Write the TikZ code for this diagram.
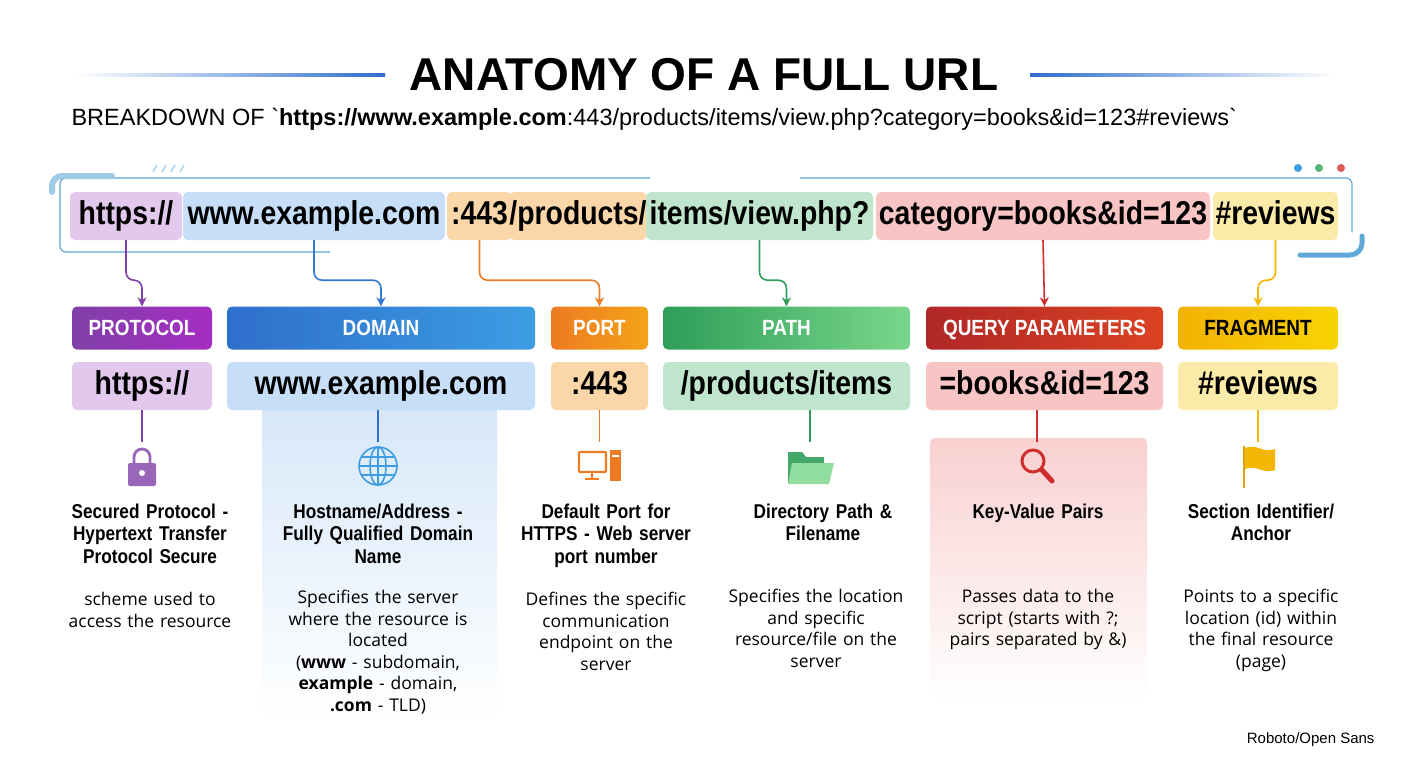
\documentclass[tikz,border=0pt]{standalone}
\usepackage{fontspec}
\setmainfont{Liberation Sans}
\newfontfamily\condfont{Liberation Sans}[FakeStretch=0.86]
\newfontfamily\rawfont{Liberation Sans}[Ligatures=ResetAll]
\newfontfamily\bodyfont{Open Sans}
\usetikzlibrary{calc,arrows.meta}
% palette
\definecolor{protL}{HTML}{E3C8EE}\definecolor{protD}{HTML}{8040A8}
\definecolor{domL}{HTML}{C6DEF7}\definecolor{domD}{HTML}{2F6FCC}\definecolor{domE}{HTML}{3C9DE2}
\definecolor{portL}{HTML}{FBD6A9}\definecolor{portD}{HTML}{EE7B22}
\definecolor{pathL}{HTML}{BFE6CC}\definecolor{pathD}{HTML}{2E9E58}
\definecolor{queryL}{HTML}{F8C4C4}\definecolor{queryD}{HTML}{CF2E2E}
\definecolor{fragL}{HTML}{FBEBA8}\definecolor{fragD}{HTML}{F2B705}
\definecolor{frameC}{HTML}{5FA8D8}
\newcommand{\backtk}{{\rawfont\char96}}
\begin{document}
\begin{tikzpicture}[x=1pt,y=-1pt,
    segbox/.style={rounded corners=5pt,inner sep=0pt,minimum height=48pt,text height=24pt,text depth=7pt,font=\condfont\bfseries\fontsize{33}{33}\selectfont},
    hdr/.style={rounded corners=5pt,inner sep=0pt,minimum height=43pt,text height=15pt,text depth=1pt,text=white,font=\condfont\bfseries\fontsize{22}{22}\selectfont},
    valbox/.style={rounded corners=5pt,inner sep=0pt,minimum height=48pt,text height=24pt,text depth=7pt,font=\condfont\bfseries\fontsize{33}{33}\selectfont},
    ttl/.style={align=center,text width=230pt,anchor=north,font=\condfont\bfseries\fontsize{20}{22.5}\selectfont},
    desc/.style={align=center,text width=215pt,anchor=north,font=\bodyfont\fontsize{17.5}{21.5}\selectfont},
    link/.style={line width=1.6pt,rounded corners=8pt,-{Stealth[length=9pt,width=9pt]}},
    stem/.style={line width=1.6pt}]
\useasboundingbox[fill=white] (0,0) rectangle (1408,768);

% title
\node (title) at (704,75) {\bfseries\fontsize{46}{46}\selectfont ANATOMY OF A FULL URL};
\shade[left color=white,right color=domD] (75,73.5) rectangle (385,76.5);
\shade[left color=domD,right color=white] (1030,73.5) rectangle (1335,76.5);
\node[anchor=west] (sub) at (68,119) {\fontsize{23.5}{23.5}\selectfont BREAKDOWN OF \backtk\textbf{https://www.example.com}:443/products/items/view.php?category=books\&id=123\#reviews\backtk};

% browser frame
\draw[frameC,line width=1.2pt,rounded corners=6pt] (650,178) -- (60,178) -- (60,252) -- (330,252);
\draw[frameC!60,line width=6pt,line cap=round,rounded corners=10pt] (52,192) -- (52,176) -- (112,176);
\foreach \i in {0,1,2,3} \draw[frameC!50,line width=1.5pt] (153+\i*9,172) -- (157+\i*9,165);
\draw[frameC,line width=1.2pt,rounded corners=6pt] (800,178) -- (1352,178) -- (1352,232);
\draw[frameC,line width=5pt,line cap=round,rounded corners=12pt] (1362,236) -- (1362,255) -- (1300,255);
\fill[domE] (1298,168) circle (4pt);
\fill[pathD!80] (1319,168) circle (4pt);
\fill[queryD!80] (1341,168) circle (4pt);

% URL segments
\node[segbox,fill=protL,minimum width=112pt] (s1) at (126,216) {https://};
\node[segbox,fill=domL,minimum width=262pt] (s2) at (314,216) {www.example.com};
\node[segbox,fill=portL,minimum width=65pt] (s3) at (479.5,216) {:443};
\node[segbox,fill=portL,minimum width=124pt] (s3b) at (578,216) {/products/};
\node[segbox,fill=pathL,minimum width=227pt] (s4) at (759.5,216) {items/view.php?};
\node[segbox,fill=queryL,minimum width=334pt] (s5) at (1043,216) {category=books\&id=123};
\node[segbox,fill=fragL,minimum width=125pt] (s6) at (1275.5,216) {\#reviews};

% headers
\node[hdr,left color=protD,right color=protD!70!magenta,minimum width=140pt] (h1) at (142,328) {PROTOCOL};
\node[hdr,left color=domD,right color=domE,minimum width=308pt] (h2) at (381,328) {DOMAIN};
\node[hdr,left color=portD,right color=portD!70!yellow,minimum width=97pt] (h3) at (599.5,328) {PORT};
\node[hdr,left color=pathD,right color=pathD!70!green!60!white,minimum width=247pt] (h4) at (786.5,328) {PATH};
\node[hdr,left color=queryD!85!black,right color=queryD!75!orange,minimum width=237pt] (h5) at (1044.5,328) {QUERY PARAMETERS};
\node[hdr,left color=fragD!90!orange,right color=fragD!60!yellow,text=black,minimum width=160pt] (h6) at (1258,328) {FRAGMENT};

% connectors from the URL
\draw[link,protD] (s1.south) -- ++(0,40) -| (h1.north);
\draw[link,domD!80!domE] (s2.south) -- ++(0,40) -| (h2.north);
\draw[link,portD] (s3.south) -- ++(0,40) -| (h3.north);
\draw[link,pathD] (s4.south) -- ++(0,40) -| (h4.north);
\draw[link,queryD] (s5.south) -- (h5.north);
\draw[link,fragD] (s6.south) -- ++(0,40) -| (h6.north);

% shaded panels
\shade[top color=domL!70,bottom color=white] (262,410) rectangle (497,720);
\shade[top color=queryL!80,bottom color=white,rounded corners=5pt] (930,438) rectangle (1147,700);

% values
\node[valbox,fill=protL,minimum width=140pt] (v1) at (142,386) {https://};
\node[valbox,fill=domL,minimum width=308pt] (v2) at (381,386) {www.example.com};
\node[valbox,fill=portL,minimum width=97pt] (v3) at (599.5,386) {:443};
\node[valbox,fill=pathL,minimum width=247pt] (v4) at (786.5,386) {/products/items};
\node[valbox,fill=queryL,minimum width=237pt] (v5) at (1044.5,386) {=books\&id=123};
\node[valbox,fill=fragL,minimum width=160pt] (v6) at (1258,386) {\#reviews};

% icons
\coordinate (i1) at (142,466);
\coordinate (i2) at (378,466);
\coordinate (i3) at (600,466);
\coordinate (i4) at (810,466);
\coordinate (i5) at (1037,466);
\coordinate (i6) at (1258,466);
\draw[stem,protD] (v1.south) -- ++(0,32);
\draw[stem,domD] (v2.south -| i2) -- ++(0,32);
\draw[stem,portD] (v3.south) -- ++(0,32);
\draw[stem,pathD] (v4.south -| i4) -- ++(0,32);
\draw[stem,queryD] (v5.south -| i5) -- ++(0,32);
\draw[stem,fragD] (v6.south) -- ++(0,32);
% lock
\draw[protD!80,line width=2.8pt] ($(i1)+(-8,-2)$) -- ++(0,-7) arc (180:360:8) -- ++(0,7);
\fill[protD!80,rounded corners=2pt] ($(i1)+(-14,-3)$) rectangle ($(i1)+(14,20)$);
\fill[white] ($(i1)+(0,7)$) circle (3pt);
% globe
\begin{scope}[domE,line width=1.6pt]
\draw (i2) circle (19pt);
\draw (i2) ellipse (8pt and 19pt);
\draw ($(i2)+(0,-19)$) -- ($(i2)+(0,19)$);
\draw ($(i2)+(-19,0)$) -- ($(i2)+(19,0)$);
\draw ($(i2)+(-16,-9)$) -- ($(i2)+(16,-9)$);
\draw ($(i2)+(-16,9)$) -- ($(i2)+(16,9)$);
\end{scope}
% monitor
\draw[portD,line width=2.2pt,rounded corners=1pt] ($(i3)+(-21,-14)$) rectangle ($(i3)+(6,6)$);
\draw[portD,line width=2.2pt] ($(i3)+(-8,6)$) -- ++(0,7) ++(-7,0) -- ++(14,0);
\fill[portD] ($(i3)+(10,-16)$) rectangle ($(i3)+(21,15)$);
\fill[white] ($(i3)+(12,-11)$) rectangle ($(i3)+(19,-9)$);
% folder
\fill[pathD!90] ($(i4)+(-22,-14)$) -- ++(14,0) -- ++(4,5) -- ++(18,0) -- ++(0,25) -- ++(-36,0) -- cycle;
\fill[pathD!70!green!50!white] ($(i4)+(-18,-3)$) -- ++(42,0) -- ++(-5,21) -- ++(-41,0) -- cycle;
% magnifier
\draw[queryD,line width=3pt] ($(i5)+(-4,-5)$) circle (11pt);
\draw[queryD,line width=5pt,line cap=round] ($(i5)+(5,4)$) -- ($(i5)+(15,15)$);
% flag
\draw[fragD!90!black,line width=2.5pt] ($(i6)+(-14,-20)$) -- ($(i6)+(-14,22)$);
\fill[fragD] ($(i6)+(-13,-18)$) .. controls ($(i6)+(-2,-23)$) and ($(i6)+(6,-12)$) .. ($(i6)+(17,-17)$) -- ($(i6)+(17,4)$) .. controls ($(i6)+(6,9)$) and ($(i6)+(-2,-2)$) .. ($(i6)+(-13,3)$) -- cycle;

% titles
\node[ttl] (t1) at (150,500) {Secured Protocol -\\Hypertext Transfer\\Protocol Secure};
\node[ttl] (t2) at (378,500) {Hostname/Address -\\Fully Qualified Domain\\Name};
\node[ttl] (t3) at (606,500) {Default Port for\\HTTPS - Web server\\port number};
\node[ttl] (t4) at (823,500) {Directory Path \&\\Filename};
\node[ttl] (t5) at (1038,500) {Key-Value Pairs};
\node[ttl] (t6) at (1261,500) {Section Identifier/\\Anchor};

% descriptions
\node[desc] (d1) at (150,589) {scheme used to\\access the resource};
\node[desc] (d2) at (378,587) {Specifies the server\\where the resource is\\located\\(\textbf{www} - subdomain,\\\textbf{example} - domain,\\\textbf{.com} - TLD)};
\node[desc] (d3) at (606,589) {Defines the specific\\communication\\endpoint on the\\server};
\node[desc] (d4) at (816,586) {Specifies the location\\and specific\\resource/file on the\\server};
\node[desc] (d5) at (1038,586) {Passes data to the\\script (starts with ?;\\pairs separated by \&)};
\node[desc] (d6) at (1261,586) {Points to a specific\\location (id) within\\the final resource\\(page)};

\node[anchor=east,font=\fontsize{15}{15}\selectfont] (font) at (1378,740) {Roboto/Open Sans};
\end{tikzpicture}
\end{document}
